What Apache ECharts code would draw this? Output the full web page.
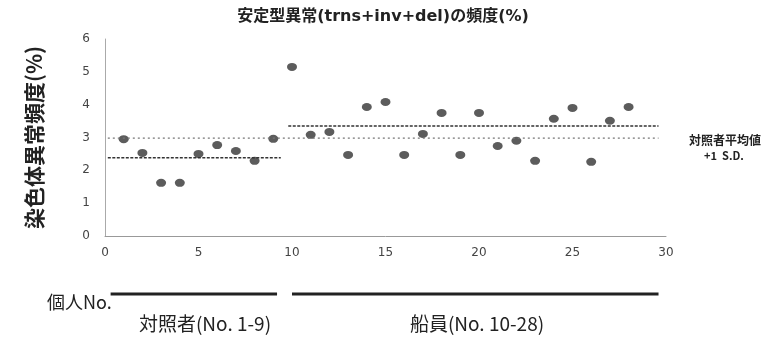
<!DOCTYPE html>
<html><head><meta charset="utf-8">
<script src="https://cdn.jsdelivr.net/npm/echarts@6/dist/echarts.min.js"></script>
<style>html,body{margin:0;padding:0;background:#fff}#c{width:772px;height:338px}</style>
</head><body><div id="c"></div>
<script>
const individuals = [1,2,3,4,5,6,7,8,9,10,11,12,13,14,15,16,17,18,19,20,21,22,23,24,25,26,27,28];
const frequencies = [2.95,2.53,1.62,1.62,2.5,2.77,2.59,2.29,2.96,5.15,3.08,3.17,2.47,3.93,4.08,2.47,3.11,3.75,2.47,3.75,2.74,2.9,2.29,3.57,3.9,2.26,3.51,3.93];
const controlMeanLine = [[0.15,2.38],[9.4,2.38]];
const crewMeanLine = [[9.8,3.35],[29.6,3.35]];
const controlSDLine = [[0.15,2.98],[29.6,2.98]];
const groupBars = [[0.3,9.2],[10.0,29.6]];
const groupLabels = ['対照者(No. 1-9)','船員(No. 10-28)'];
const xTicks = [0,5,10,15,20,25,30];
const yTicks = [0,1,2,3,4,5,6];

const JP = '"Noto Sans CJK JP", "Noto Sans", sans-serif';
const chart = echarts.init(document.getElementById('c'));
const pts = individuals.map((x,i)=>[x,frequencies[i]]);
chart.setOption({
  animation:false,
  title:{text:'安定型異常(trns+inv+del)の頻度(%)',left:378,top:4,textAlign:'center',
    textStyle:{fontFamily:'"DejaVu Sans", "Noto Sans CJK JP", sans-serif',fontSize:16,fontWeight:'bold',color:'#222'}},
  grid:{left:105,right:106,top:39,bottom:102},
  xAxis:{type:'value',min:xTicks[0],max:xTicks[xTicks.length-1],interval:5,
    axisLine:{lineStyle:{color:'#999',width:1}},axisTick:{show:false},splitLine:{show:false},
    axisLabel:{color:'#444',fontSize:12,margin:11,fontFamily:'"DejaVu Sans", sans-serif'}},
  yAxis:{type:'value',min:yTicks[0],max:yTicks[yTicks.length-1],interval:1,
    name:'染色体異常頻度(%)',nameLocation:'middle',nameGap:60,nameRotate:90,
    nameTextStyle:{fontFamily:JP,fontSize:21,fontWeight:'bold',color:'#222'},
    axisLine:{show:true,lineStyle:{color:'#aaa',width:1}},axisTick:{show:false},splitLine:{show:false},
    axisLabel:{color:'#444',fontSize:12,margin:15,fontFamily:'"DejaVu Sans", sans-serif'}},
  series:[
    {type:'line',data:controlSDLine,symbol:'none',lineStyle:{color:'#777',width:1.2,type:[2,3]},silent:true},
    {type:'line',data:controlMeanLine,symbol:'none',lineStyle:{color:'#333',width:1.5,type:[3,1.5]},silent:true},
    {type:'line',data:crewMeanLine,symbol:'none',lineStyle:{color:'#333',width:1.5,type:[3,1.5]},silent:true},
    {type:'scatter',data:pts,symbol:'circle',symbolSize:[10,8],itemStyle:{color:'#333'}}
  ]
});
function drawGraphics(){
  const els = [];
  const labelX = [205, 477];
  groupBars.forEach((b,i)=>{
    const p1 = chart.convertToPixel({gridIndex:0},[b[0],0]);
    const p2 = chart.convertToPixel({gridIndex:0},[b[1],0]);
    els.push({type:'line',shape:{x1:p1[0],y1:294,x2:p2[0],y2:294},style:{stroke:'#222',lineWidth:3}});
    els.push({type:'text',x:labelX[i],y:324,style:{text:groupLabels[i],font:'19px '+JP,fill:'#222',textAlign:'center',textVerticalAlign:'middle'}});
  });
  els.push({type:'text',x:47,y:302,style:{text:'個人No.',font:'18px '+JP,fill:'#222',textAlign:'left',textVerticalAlign:'middle'}});
  els.push({type:'text',x:725,y:140,style:{text:'対照者平均値',font:'bold 12px '+JP,fill:'#222',textAlign:'center',textVerticalAlign:'middle'}});
  els.push({type:'text',x:724,y:156,style:{text:'+1  S.D.',font:'bold 11px '+JP,fill:'#222',textAlign:'center',textVerticalAlign:'middle'}});
  chart.setOption({graphic:{elements:els}});
}
drawGraphics();
</script></body></html>
